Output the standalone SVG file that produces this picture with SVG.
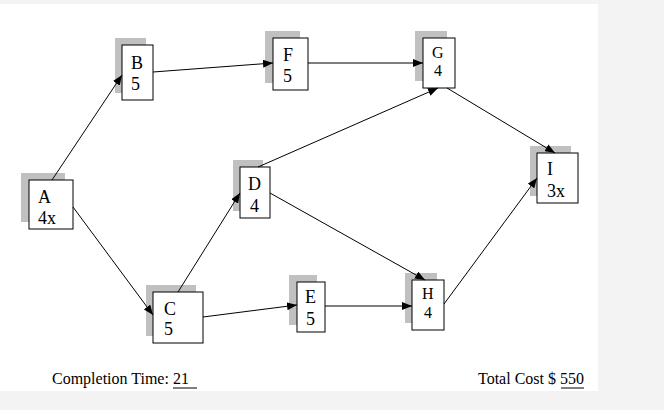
<svg xmlns="http://www.w3.org/2000/svg" width="664" height="410" viewBox="0 0 664 410">
<defs>
<style>
.sh{fill:#c0c0c0}
.bx{fill:#fff;stroke:#000;stroke-width:1}
.t{font-family:"Liberation Serif","Times New Roman",serif;font-size:18px;fill:#000}
.s{font-family:"Liberation Serif","Times New Roman",serif;font-size:16px;fill:#000}
.c{stroke:#000;stroke-width:1;fill:none;marker-end:url(#ah)}
</style>
<marker id="ah" viewBox="0 0 10 8" refX="10" refY="4" markerWidth="10" markerHeight="8" markerUnits="userSpaceOnUse" orient="auto">
<path d="M0,0 L10,4 L0,8 Z" fill="#000"/>
</marker>
</defs>
<rect x="0" y="0" width="664" height="410" fill="#f3f3f3"/>
<rect x="0" y="4" width="598" height="387" fill="#fff"/>
<g id="A"><rect class="sh" x="21" y="173" width="44" height="49"/><rect class="bx" x="29" y="180" width="44" height="49"/><text class="t" x="38" y="203">A</text><text class="t" x="38" y="224">4x</text></g>
<g id="B"><rect class="sh" x="115" y="38" width="31" height="55"/><rect class="bx" x="122" y="45" width="31" height="55"/><text class="t" x="131" y="69">B</text><text class="t" x="131" y="90">5</text></g>
<g id="F"><rect class="sh" x="265" y="31" width="35" height="52"/><rect class="bx" x="273" y="38" width="35" height="52"/><text class="t" x="283" y="61">F</text><text class="t" x="283" y="82">5</text></g>
<g id="G"><rect class="sh" x="415" y="31" width="32" height="50"/><rect class="bx" x="423" y="38" width="32" height="50"/><text class="s" x="432" y="58">G</text><text class="s" x="434" y="76">4</text></g>
<g id="D"><rect class="sh" x="233" y="160" width="30" height="51"/><rect class="bx" x="240" y="167" width="30" height="51"/><text class="t" x="248" y="190">D</text><text class="t" x="250" y="212">4</text></g>
<g id="I"><rect class="sh" x="530" y="146" width="41" height="50"/><rect class="bx" x="537" y="153" width="41" height="50"/><text class="t" x="547" y="175">I</text><text class="t" x="547" y="197">3x</text></g>
<g id="C"><rect class="sh" x="146" y="285" width="50" height="51"/><rect class="bx" x="153" y="292" width="50" height="51"/><text class="t" x="164" y="315">C</text><text class="t" x="164" y="335">5</text></g>
<g id="E"><rect class="sh" x="289" y="275" width="28" height="50"/><rect class="bx" x="297" y="282" width="28" height="50"/><text class="t" x="305" y="303">E</text><text class="t" x="306" y="325">5</text></g>
<g id="H"><rect class="sh" x="405" y="273" width="32" height="50"/><rect class="bx" x="412" y="280" width="32" height="50"/><text class="s" x="422" y="299">H</text><text class="s" x="424" y="318">4</text></g>
<g id="connectors">
<line class="c" x1="52" y1="180" x2="122" y2="75"/>
<line class="c" x1="73" y1="207" x2="153" y2="315"/>
<line class="c" x1="153" y1="72" x2="273" y2="63"/>
<line class="c" x1="308" y1="63" x2="423" y2="63"/>
<line class="c" x1="258" y1="167" x2="438" y2="88"/>
<line class="c" x1="447" y1="88" x2="555" y2="153"/>
<line class="c" x1="178" y1="292" x2="240" y2="193"/>
<line class="c" x1="203" y1="317" x2="297" y2="305"/>
<line class="c" x1="270" y1="193" x2="425" y2="280"/>
<line class="c" x1="325" y1="306" x2="412" y2="306"/>
<line class="c" x1="444" y1="304" x2="537" y2="178"/>
</g>
<g id="labels">
<text class="s" x="52" y="384">Completion Time: 21</text>
<line x1="173" y1="388" x2="197" y2="388" stroke="#000" stroke-width="1"/>
<text class="s" x="478" y="384">Total Cost $ 550</text>
<line x1="561" y1="388" x2="584" y2="388" stroke="#000" stroke-width="1"/>
</g>
</svg>
